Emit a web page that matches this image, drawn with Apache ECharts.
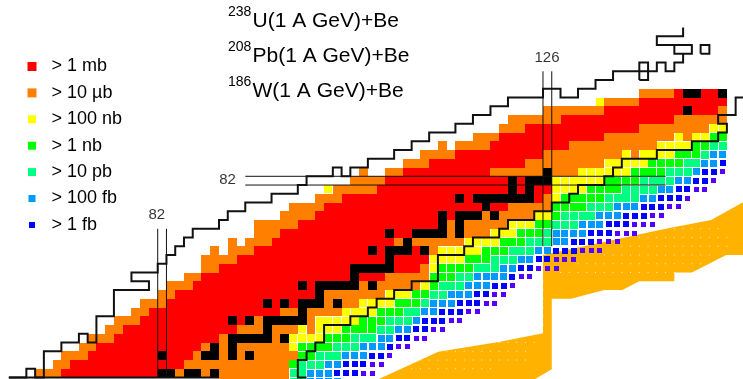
<!DOCTYPE html>
<html>
<head>
<meta charset="utf-8">
<style>
html, body { margin: 0; padding: 0; background: #fff; }
#chart { width: 743px; height: 379px; }
</style>
<script src="https://cdn.jsdelivr.net/npm/echarts@6/dist/echarts.min.js"></script>
</head>
<body>
<div id="chart"></div>
<script>
// isotope rows, Z -> runs of neutron numbers, letter = cross-section class
var rowZ = [59, 60, 61, 62, 63, 64, 65, 66, 67, 68, 69, 70, 71, 72, 73, 74, 75, 76, 77, 78, 79, 80, 81, 82, 83, 84, 85, 86, 87, 88, 89, 90, 91, 92];
var rowRuns = [
	'o89-96 s97-98 l99-102 b103-105',
	'o68-70 r71-81 k82-83 o84 k85-86 o87 k88 o89-96 s97-98 l99-101 b102-104 p105-106',
	'o70-71 r72-84 o85-96 g97 s98-100 l101-102 b103-105 p106-107',
	'o71-73 r74-81 k82 r83-85 o86 k87-88 o89 k90 o91 k92 o93-97 g98-99 s100-102 l103-105 b106-107 p108',
	'o73-74 r75-86 o87 k88 o89 k90 o91-96 y97 g98-101 s102-104 l105-107 b108 p109-110',
	'o74-76 r77-88 o89 k90-94 o95 k96 y97-100 g101-103 s104-106 l107-108 b109-110 p111-112',
	'o76-77 r78-90 o91-93 k94 o95-97 y98 o99 y100-102 g103-106 s107-108 l109-110 b111-112 p113-114',
	'o77-79 r80-89 k90 r91 k92 o93 k94-98 o99 y100-104 g105-107 s108-110 l111 b112-114 p115-116',
	'o79-80 r81-95 o96-97 k98 o99-102 y103-106 g107-109 s110-111 l112-113 b114-116 p117-118',
	'o80-82 r83-93 k94 r95 k96 r97 k98-100 o101 k102 o103-104 y105-108 g109-111 s112 l113-115 b116-118 p119-120',
	'o82-83 r84-99 k100 o101-107 y108-110 g111-112 s113-114 l115-117 b118-119 p120-121',
	'o83-85 r86-97 k98 r99 k100-104 o105 k106 o107-111 y112 g113 s114-116 l117-119 b120-121 p122',
	'o85-86 r87-103 k104 r105-107 o108-112 g113-115 s116-117 l118-121 b122 p123-124',
	'o87-88 r89-103 k104-108 r109-111 o112 y113 g114-117 s118-120 l121-122 b123-124 p125-127',
	'o87-90 r91-107 k108 r109-112 y113-116 g117-119 s120-122 l123-124 b125-126 p127-129',
	'o88 o90-92 r93-105 k106 r107 k108-110 r111 k112 o113 y114-118 g119-121 s122-124 l125-126 b127-129 p130-132',
	'o90 o92-94 r95-108 o109 k110 o111-116 y117-120 g121-123 s124-126 l127-128 b129-131 p132-134',
	'o93-95 r96-107 k108 r109-110 k111-114 o115 k116 o117-119 y120-122 g123-125 s126 l127-130 b131-133 p134-136',
	'o93-97 r98-113 k114 o115 k116 o117-121 y122-124 g125-126 s127-129 l130-132 b133-135 p136-138',
	'o96-99 r100-113 k114 r115 k116-118 o119 k120 o121-124 y125-126 g127 s128-131 l132-134 b135-137 p138-139',
	'o97-100 r101-118 k119 r120-121 o122-126 g127-130 s131-133 l134-136 b137-139 p140-141',
	'o100-102 r103-115 k116 r117 k118-124 r125 o126 y127 g128-132 s133-136 l137-138 b139-141 p142',
	'y101 o102-106 r107-121 k122 r123 k124 r125-126 y127-130 g131-134 s135-138 l139-140 b141-142 p143-144',
	'o104-107 r108-121 k122 r123 k124-126 y127-132 g133-136 s137-140 l141-142 b143-144 p145',
	'o105 o108-109 r110-119 o120-125 k126 o127-129 y130-135 g136-139 s140-142 l143 b144-145 p146',
	'o110-112 r113-123 o124-132 y133-137 g138-141 s142-143 l144-145 b146',
	'o112-115 r116-125 o126-134 y135 o136 y137-140 g141-143 s144 l145-146',
	'o114 o116-119 r120-128 o129-138 y139-142 g143-144 s145-146',
	'o118-120 r121-132 o133-140 y141 o142 y143-144 g145-146',
	'o121-123 r124-136 o137-144 y145-146',
	'o122-127 r128-140 o141-146',
	'o126-132 r133-141 k142 r143-145 o146',
	'y132 o133-136 r137-146',
	'o137-140 r141 k142-143 r144-145 k146'
];

var classKeys = ['o', 'r', 'k', 'y', 'g', 's', 'l', 'b', 'p'];
var classNames = ['> 10 µb', '> 1 mb', 'measured', '> 100 nb', '> 1 nb', '> 10 pb', '> 100 fb', '> 1 fb', 'below 1 fb'];
var classColors = ['#ff8000', '#ff0000', '#000000', '#ffff00', '#00ff00', '#00ff80', '#0099ff', '#0000ff', '#5500ff'];
// square size in px, 0 = fill the whole cell
var classSizes = [0, 0, 0, 8, 8, 7.5, 7, 6, 5];

// known-nuclei limit, proton-rich side
var upperStairN = [64.5, 66.5, 66.5, 67.5, 67.5, 68.5, 68.5, 70.5, 70.5, 72.5, 72.5, 73.5, 73.5, 74.5, 74.5, 76.5, 76.5, 80.5, 80.5, 78.5, 78.5, 81.5, 81.5, 82.5, 82.5, 83.5, 83.5, 84.5, 84.5, 85.5, 85.5, 88.5, 88.5, 89.5, 89.5, 91.5, 91.5, 94.5, 94.5, 97.5, 97.5, 98.5, 98.5, 101.5, 101.5, 102.5, 102.5, 103.5, 103.5, 105.5, 105.5, 108.5, 108.5, 110.5, 110.5, 112.5, 112.5, 115.5, 115.5, 117.5, 117.5, 119.5, 119.5, 121.5, 121.5, 125.5, 125.5, 127.5, 127.5, 129.5, 129.5, 131.5, 131.5, 133.5, 133.5, 138.5, 138.5, 139.5, 139.5, 140.5, 140.5, 141.5, 141.5, 140.5, 140.5, 142.5, 142.5, 140.5, 140.5, 138.5, 138.5, 141.5, 141.5];
var upperStairZ = [59.5, 59.5, 60.5, 60.5, 59.5, 59.5, 62.5, 62.5, 63.5, 63.5, 64.5, 64.5, 63.5, 63.5, 66.5, 66.5, 69.5, 69.5, 70.5, 70.5, 71.5, 71.5, 72.5, 72.5, 73.5, 73.5, 74.5, 74.5, 75.5, 75.5, 76.5, 76.5, 77.5, 77.5, 78.5, 78.5, 79.5, 79.5, 80.5, 80.5, 81.5, 81.5, 82.5, 82.5, 83.5, 83.5, 82.5, 82.5, 83.5, 83.5, 84.5, 84.5, 85.5, 85.5, 86.5, 86.5, 87.5, 87.5, 88.5, 88.5, 89.5, 89.5, 90.5, 90.5, 91.5, 91.5, 92.5, 92.5, 91.5, 91.5, 92.5, 92.5, 93.5, 93.5, 94.5, 94.5, 95.5, 95.5, 94.5, 94.5, 95.5, 95.5, 96.5, 96.5, 97.5, 97.5, 96.5, 96.5, 97.5, 97.5, 98.5, 98.5, 99.5];
// known-nuclei limit, neutron-rich side
var lowerStairN = [98.5, 97.5, 97.5, 98.5, 98.5, 99.5, 99.5, 100.5, 100.5, 103.5, 103.5, 105.5, 105.5, 106.5, 106.5, 108.5, 108.5, 110.5, 110.5, 113.5, 113.5, 116.5, 116.5, 117.5, 117.5, 120.5, 120.5, 121.5, 121.5, 124.5, 124.5, 126.5, 126.5, 128.5, 128.5, 129.5, 129.5, 132.5, 132.5, 133.5, 133.5, 134.5, 134.5, 138.5, 138.5, 142.5, 142.5, 145.5, 145.5, 146.5, 146.5, 145.5, 145.5, 147.5, 147.5, 149];
var lowerStairZ = [59.5, 59.5, 61.5, 61.5, 62.5, 62.5, 63.5, 63.5, 65.5, 65.5, 66.5, 66.5, 67.5, 67.5, 68.5, 68.5, 69.5, 69.5, 70.5, 70.5, 73.5, 73.5, 74.5, 74.5, 75.5, 75.5, 76.5, 76.5, 77.5, 77.5, 78.5, 78.5, 79.5, 79.5, 80.5, 80.5, 81.5, 81.5, 82.5, 82.5, 83.5, 83.5, 84.5, 84.5, 85.5, 85.5, 86.5, 86.5, 87.5, 87.5, 88.5, 88.5, 89.5, 89.5, 91.5, 91.5];
var boxOneN = [136.5, 137.5, 137.5, 136.5, 136.5];
var boxOneZ = [93.5, 93.5, 95.5, 95.5, 93.5];
var boxTwoN = [143.5, 144.5, 144.5, 143.5, 143.5];
var boxTwoZ = [96.5, 96.5, 97.5, 97.5, 96.5];
var baseN = [64.5, 88.5];
var baseZ = [59.5, 59.5];

// shell closures: [from, to] along the line
var magicN82Z = [59.5, 76.5];
var magicN126Z = [74.5, 94.5];
var magicZ82N = [91.5, 139.5];

// r-process band outline
var bandN = [125.5, 139.5, 144.7, 148.34, 148.34, 146.43, 142.5, 140.5, 140.5, 136.5, 134.55, 132.5, 128.7, 126.5, 126.5, 124.55, 106.7, 113.54, 120.59, 125.5];
var bandZ = [73.5, 76.5, 77.5, 79.53, 73.5, 73.5, 71.5, 71.5, 70.5, 70.5, 69.5, 69.5, 68.5, 68.5, 60.44, 59.3, 59.3, 62.45, 63.6, 64.55];
// white lattice dots in the band: row, first and last neutron position
var dotZ = [76.5, 75.5, 74.5, 73.5, 72.5, 71.5, 70.5, 69.5, 68.5, 67.5, 66.5, 65.5, 63.5, 62.5, 61.5, 60.5];
var dotFrom = [139.5, 136.5, 134.5, 132.5, 129.5, 127.5, 125.5, 125.5, 125.5, 125.5, 125.5, 125.5, 120.5, 114.5, 111.5, 110.5];
var dotTo = [145.5, 146.5, 146.5, 144.5, 143.5, 140.5, 125.5, 125.5, 125.5, 125.5, 125.5, 125.5, 124.5, 123.5, 123.5, 119.5];

var labelText = ['82', '82', '126'];
var labelN = [89.47, 81.4, 125.96];
var labelZ = [82.07, 78.07, 96];

var legendNames = ['> 1 mb', '> 10 µb', '> 100 nb', '> 1 nb', '> 10 pb', '> 100 fb', '> 1 fb'];
var legendBorders = [0, 0, 1, 1, 1, 2, 3];

var reactionMass = ['238', '208', '186'];
var reactionText = ['U(1 A GeV)+Be', 'Pb(1 A GeV)+Be', 'W(1 A GeV)+Be'];
var reactionY = [21.5, 56.5, 91.5];

var fontName = '"Liberation Sans", Arial, sans-serif';

function zip(a, b) {
	return a.map(function(v, i) { return [v, b[i]]; });
}

function cellsOf(key) {
	var out = [];
	rowRuns.forEach(function(row, i) {
		row.split(' ').forEach(function(run) {
			if (run.charAt(0) !== key) return;
			var ends = run.slice(1).split('-').map(Number);
			var last = ends.length > 1 ? ends[1] : ends[0];
			for (var n = ends[0]; n <= last; n++) out.push([n, rowZ[i]]);
		});
	});
	return out;
}

function stairLine(name, n, z, width) {
	return {
		name: name,
		type: 'line',
		data: zip(n, z),
		showSymbol: false,
		symbol: 'none',
		silent: true,
		z: 6,
		lineStyle: { color: '#111', width: width, join: 'miter' }
	};
}

// cells snap to whole pixels so neighbours meet without seams
function cellRenderer(size, color) {
	return function(params, api) {
		var n = api.value(0), z = api.value(1);
		var x0, x1, y0, y1;
		if (size) {
			var c = api.coord([n, z]);
			x0 = Math.round(c[0] - size / 2);
			y0 = Math.round(c[1] - size / 2);
			x1 = x0 + Math.round(size);
			y1 = y0 + Math.round(size);
		} else {
			var a = api.coord([n - 0.5, z + 0.5]);
			var b = api.coord([n + 0.5, z - 0.5]);
			x0 = Math.round(a[0]);
			y0 = Math.round(a[1]);
			x1 = Math.round(b[0]);
			y1 = Math.round(b[1]);
		}
		return { type: 'rect', shape: { x: x0, y: y0, width: x1 - x0, height: y1 - y0 }, style: { fill: color } };
	};
}

var series = [];

series.push({
	name: 'r-process band',
	type: 'custom',
	silent: true,
	z: 1,
	clip: true,
	data: zip(bandN, bandZ),
	renderItem: function(params, api) {
		if (params.dataIndex !== 0) return null;
		var pts = zip(bandN, bandZ).map(function(p) { return api.coord(p); });
		return { type: 'polygon', shape: { points: pts }, style: { fill: '#ffb300' } };
	}
});

var dots = [];
dotZ.forEach(function(z, i) {
	for (var n = dotFrom[i]; n <= dotTo[i]; n++) dots.push([n, z]);
});
series.push({
	name: 'band dots',
	type: 'scatter',
	silent: true,
	z: 2,
	symbol: 'rect',
	symbolSize: 1,
	itemStyle: { color: '#fff' },
	data: dots
});

classKeys.forEach(function(key, i) {
	series.push({
		name: classNames[i],
		type: 'custom',
		silent: true,
		z: 3,
		clip: false,
		encode: { x: 0, y: 1 },
		itemStyle: { color: classColors[i] },
		renderItem: cellRenderer(classSizes[i], classColors[i]),
		data: cellsOf(key)
	});
});

series.push(stairLine('upper limit', upperStairN, upperStairZ, 2));
series.push(stairLine('lower limit', lowerStairN, lowerStairZ, 2));
series.push(stairLine('box one', boxOneN, boxOneZ, 2));
series.push(stairLine('box two', boxTwoN, boxTwoZ, 2));
series.push(stairLine('base', baseN, baseZ, 2));
[81.5, 82.5].forEach(function(n) {
	series.push(stairLine('N82 ' + n, [n, n], magicN82Z, 1));
});
[125.5, 126.5].forEach(function(n) {
	series.push(stairLine('N126 ' + n, [n, n], magicN126Z, 1));
});
[81.5, 82.5].forEach(function(z) {
	series.push(stairLine('Z82 ' + z, magicZ82N, [z, z], 1));
});

series.push({
	name: 'shell labels',
	type: 'scatter',
	silent: true,
	z: 7,
	symbolSize: 0,
	data: labelText.map(function(t, i) {
		return { name: t, value: [labelN[i], labelZ[i]] };
	}),
	label: {
		show: true,
		position: 'inside',
		formatter: '{b}',
		fontFamily: fontName,
		fontSize: 15,
		color: '#000'
	}
});

var reactionLabels = [];
reactionMass.forEach(function(m, i) {
	reactionLabels.push({
		type: 'text', left: 228, top: reactionY[i] - 16.5,
		style: { text: m, fontFamily: fontName, fontSize: 14, fill: '#000' }
	});
	reactionLabels.push({
		type: 'text', left: 252.5, top: reactionY[i] - 10.5,
		style: { text: reactionText[i], fontFamily: fontName, fontSize: 21, fill: '#000' }
	});
});

var myChart = echarts.init(document.getElementById('chart'), null, { renderer: 'canvas' });
myChart.setOption({
	animation: false,
	backgroundColor: '#fff',
	grid: { left: 0, right: 0, top: 0, bottom: 0 },
	xAxis: { type: 'value', min: 63.49, max: 148.34, show: false },
	yAxis: { type: 'value', min: 59.33, max: 102.65, show: false },
	legend: {
		orient: 'vertical',
		left: 21,
		top: 52.5,
		itemWidth: 9,
		itemHeight: 9,
		itemGap: 8.4,
		selectedMode: false,
		textStyle: { fontFamily: fontName, fontSize: 18, color: '#000', padding: [0, 0, 4, 10] },
		data: legendNames.map(function(name, i) {
			return {
				name: name,
				icon: 'rect',
				itemStyle: { borderColor: '#fff', borderWidth: legendBorders[i] }
			};
		})
	},
	graphic: reactionLabels,
	series: series
});
</script>
</body>
</html>
